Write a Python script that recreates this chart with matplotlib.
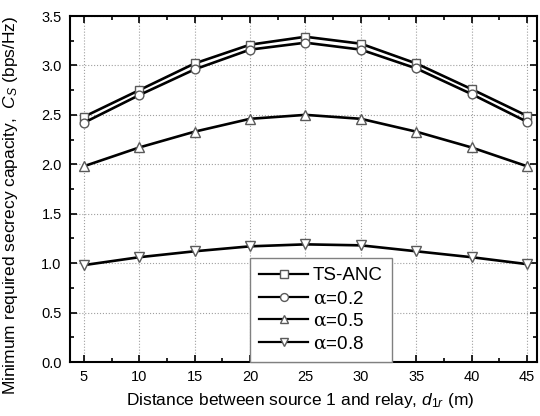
import matplotlib
matplotlib.use('Agg')
import matplotlib.pyplot as plt
from matplotlib.ticker import MultipleLocator

plt.rcParams['font.family'] = ['Liberation Sans', 'DejaVu Sans']
plt.rcParams['mathtext.fontset'] = 'custom'
plt.rcParams['mathtext.rm'] = 'Liberation Sans'
plt.rcParams['mathtext.it'] = 'Liberation Sans:italic'
plt.rcParams['mathtext.sf'] = 'DejaVu Serif'

# data
dist = [5, 10, 15, 20, 25, 30, 35, 40, 45]
ts_anc = [2.48, 2.75, 3.02, 3.21, 3.29, 3.22, 3.02, 2.76, 2.49]
alpha02 = [2.42, 2.70, 2.96, 3.16, 3.23, 3.16, 2.97, 2.71, 2.43]
alpha05 = [1.98, 2.17, 2.33, 2.46, 2.50, 2.46, 2.33, 2.17, 1.98]
alpha08 = [0.98, 1.06, 1.12, 1.17, 1.19, 1.18, 1.12, 1.06, 0.99]

fig = plt.figure(figsize=(5.4, 4.16), dpi=100)
ax = fig.add_axes([70/540, 1 - 362/416, 467/540, 346/416])

series = [
    (ts_anc, 's', 'TS-ANC'),
    (alpha02, 'o', r'$\mathsf{\alpha}$=0.2'),
    (alpha05, '^', r'$\mathsf{\alpha}$=0.5'),
    (alpha08, 'v', r'$\mathsf{\alpha}$=0.8'),
]
for vals, mk, lab in series:
    ax.plot(dist, vals, color='black', lw=1.9, marker=mk,
            markersize=7 if mk in '^v' else 6.3,
            markerfacecolor='white', markeredgecolor='#5a5a5a', markeredgewidth=1.0,
            label=lab, zorder=3)

ax.set_xlim(3.75, 45.9)
ax.xaxis.set_major_locator(MultipleLocator(5))
ax.xaxis.set_minor_locator(MultipleLocator(2.5))
yt = [0.0, 0.5, 1.0, 1.5, 2.0, 2.5, 3.0, 3.5]
ax.set_yticks(yt)
ax.set_yticklabels([f'{v:.1f}' for v in yt])
ax.yaxis.set_minor_locator(MultipleLocator(0.25))
ax.set_ylim(0, 3.5)
ax.tick_params(which='both', direction='in', top=True, right=True, labelsize=10.5, width=1.2)
ax.tick_params(which='major', length=5, pad=6)
ax.tick_params(which='minor', length=3)
ax.grid(True, which='major', linestyle=':', color='#a0a0a0', lw=0.8)
for s in ax.spines.values():
    s.set_linewidth(1.5)

ax.set_xlabel(r'Distance between source 1 and relay, $d_{\mathit{1r}}$ (m)', fontsize=12.5, va='center')
ax.set_ylabel(r'Minimum required secrecy capacity,  $C_S$ (bps/Hz)', fontsize=12.5, va='center')
ax.xaxis.set_label_coords(0.492, -0.11)
ax.yaxis.set_label_coords(-0.128, 0.454)

leg = ax.legend(loc='lower left', bbox_to_anchor=(0.385, 0.0), borderaxespad=0,
                fontsize=13.5, fancybox=False, framealpha=1, edgecolor='#808080',
                handlelength=2.6, handletextpad=0.25, labelspacing=0.3,
                markerscale=0.9, borderpad=0.5)
leg.get_frame().set_linewidth(1.0)
for h in leg.get_lines():
    h.set_linewidth(1.6)

fig.savefig('out.png', dpi=100)
